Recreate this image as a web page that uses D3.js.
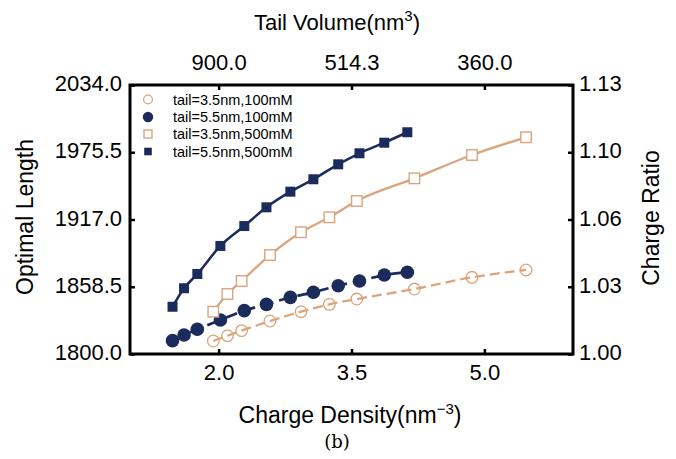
<!DOCTYPE html>
<html>
<head>
<meta charset="utf-8">
<script src="https://cdn.jsdelivr.net/npm/d3@7"></script>
<style>
  body { margin: 0; background: #fff; }
  svg text { font-family: "Liberation Sans", Arial, sans-serif; fill: #000; }
</style>
</head>
<body>
<div id="chart"></div>
<script>
// series names in legend order
var seriesNames = ['tail=3.5nm,100mM', 'tail=5.5nm,100mM', 'tail=3.5nm,500mM', 'tail=5.5nm,500mM'];

// charge density (x) for the 5.5nm and 3.5nm tails
var density55 = [1.48, 1.61, 1.76, 2.02, 2.29, 2.54, 2.81, 3.07, 3.35, 3.59, 3.87, 4.13];
var density35 = [1.94, 2.10, 2.26, 2.58, 2.93, 3.25, 3.56, 4.21, 4.86, 5.47];

// optimal length values
var len35_100 = [1811.3, 1815.9, 1820.3, 1828.7, 1836.8, 1843.2, 1847.8, 1856.5, 1866.7, 1873.1];
var len55_100 = [1811.6, 1816.5, 1821.5, 1829.6, 1837.7, 1843.2, 1849.3, 1853.7, 1859.4, 1863.5, 1868.7, 1871.1];
var len35_500 = [1836.8, 1852.2, 1863.5, 1886.1, 1905.9, 1918.9, 1933.1, 1952.8, 1973.1, 1988.5];
var len55_500 = [1841.1, 1857.2, 1869.6, 1894.0, 1911.3, 1927.6, 1941.2, 1952.0, 1965.0, 1974.6, 1983.8, 1992.9];

// ticks
var xTicks = [2.0, 3.5, 5.0];
var xTopLabels = ['900.0', '514.3', '360.0'];
var yTicks = [1800, 1858.5, 1917, 1975.5, 2034];
var yRightTicks = [1.00, 1.0325, 1.065, 1.0975, 1.13];
var yRightLabels = ['1.00', '1.03', '1.06', '1.10', '1.13'];

var navy = '#1b2b5b';
var tan = '#dca47c';

var width = 676, height = 459;
var margin = { left: 130, right: 103, top: 85, bottom: 105 };

var svg = d3.select('#chart').append('svg')
  .attr('width', width)
  .attr('height', height);

var x = d3.scaleLinear().domain([1, 6]).range([margin.left, width - margin.right]);
var y = d3.scaleLinear().domain([1800, 2034]).range([height - margin.bottom, margin.top]);
var yR = d3.scaleLinear().domain([1.00, 1.13]).range([height - margin.bottom, margin.top]);

var fontSize = 22;

// axes (ticks pointing inward)
var bottomAxis = svg.append('g')
  .attr('transform', 'translate(0,' + (height - margin.bottom) + ')')
  .call(d3.axisBottom(x).tickValues(xTicks).tickSize(-5).tickSizeOuter(0).tickPadding(10)
    .tickFormat(d3.format('.1f')));

var topAxis = svg.append('g')
  .attr('transform', 'translate(0,' + margin.top + ')')
  .call(d3.axisTop(x).tickValues(xTicks).tickSize(-5).tickSizeOuter(0).tickPadding(15)
    .tickFormat(function(d, i) { return xTopLabels[i]; }));

var leftAxis = svg.append('g')
  .attr('transform', 'translate(' + margin.left + ',0)')
  .call(d3.axisLeft(y).tickValues(yTicks).tickSize(-5).tickSizeOuter(0).tickPadding(8)
    .tickFormat(d3.format('.1f')));

var rightAxis = svg.append('g')
  .attr('transform', 'translate(' + (width - margin.right) + ',0)')
  .call(d3.axisRight(yR).tickValues(yRightTicks).tickSize(-5).tickSizeOuter(0).tickPadding(6)
    .tickFormat(function(d, i) { return yRightLabels[i]; }));

[bottomAxis, topAxis, leftAxis, rightAxis].forEach(function(a) {
  a.select('.domain').remove();
  a.selectAll('.tick line').attr('stroke', '#000').attr('stroke-width', 2.5);
  a.selectAll('.tick text')
    .style('font-family', '"Liberation Sans", Arial, sans-serif')
    .style('font-size', fontSize + 'px')
    .attr('fill', '#000');
});
// side labels sit a touch above their ticks in the original
leftAxis.selectAll('.tick text').attr('dy', '0.25em');
rightAxis.selectAll('.tick text').attr('dy', '0.25em');

// frame
svg.append('rect')
  .attr('x', margin.left)
  .attr('y', margin.top)
  .attr('width', width - margin.left - margin.right)
  .attr('height', height - margin.top - margin.bottom)
  .attr('fill', 'none')
  .attr('stroke', '#000')
  .attr('stroke-width', 3);

// lines
function pts(xs, ys) {
  return xs.map(function(d, i) { return [d, ys[i]]; });
}
var line = d3.line()
  .x(function(d) { return x(d[0]); })
  .y(function(d) { return y(d[1]); })
  .curve(d3.curveMonotoneX);

var series = [
  { name: seriesNames[0], data: pts(density35, len35_100), color: tan, dash: '10,5', lw: 2.3, shape: 'circle', filled: false },
  { name: seriesNames[1], data: pts(density55, len55_100), color: navy, dash: '13,6', lw: 2.8, shape: 'circle', filled: true },
  { name: seriesNames[2], data: pts(density35, len35_500), color: tan, dash: null, lw: 2.3, shape: 'square', filled: false },
  { name: seriesNames[3], data: pts(density55, len55_500), color: navy, dash: null, lw: 2.5, shape: 'square', filled: true }
];

var plot = svg.append('g');

series.forEach(function(s) {
  plot.append('path')
    .attr('d', line(s.data))
    .attr('fill', 'none')
    .attr('stroke', s.color)
    .attr('stroke-width', s.lw)
    .attr('stroke-dasharray', s.dash);
});

function drawMarker(g, s, cx, cy, scale) {
  if (s.shape === 'circle') {
    g.append('circle')
      .attr('cx', cx).attr('cy', cy)
      .attr('r', (s.filled ? 6.8 : 5.8) * scale)
      .attr('fill', s.filled ? s.color : 'none')
      .attr('stroke', s.color)
      .attr('stroke-width', s.filled ? 0 : 1.3);
  } else {
    var side = (s.filled ? 10 : 10.5) * scale;
    g.append('rect')
      .attr('x', cx - side / 2).attr('y', cy - side / 2)
      .attr('width', side).attr('height', side)
      .attr('fill', s.filled ? s.color : '#fff')
      .attr('stroke', s.color)
      .attr('stroke-width', s.filled ? 0 : 1.4);
  }
}

series.forEach(function(s) {
  s.data.forEach(function(d) {
    drawMarker(plot, s, x(d[0]), y(d[1]), 1);
  });
});

// legend
var legend = svg.append('g');
var legendRows = [99.5, 117, 134, 151.5];
series.forEach(function(s, i) {
  drawMarker(legend, s, 148, legendRows[i], 0.76);
  legend.append('text')
    .attr('x', 173)
    .attr('y', legendRows[i])
    .attr('dy', '0.36em')
    .style('font-size', '14.5px')
    .text(s.name);
});

// axis titles
var topTitle = svg.append('text')
  .attr('x', 337)
  .attr('y', 30)
  .attr('text-anchor', 'middle')
  .style('font-size', fontSize + 'px');
topTitle.append('tspan').text('Tail Volume(nm');
topTitle.append('tspan').attr('dy', -9).style('font-size', '15px').text('3');
topTitle.append('tspan').attr('dy', 9).text(')');

var bottomTitle = svg.append('text')
  .attr('x', 350)
  .attr('y', 423)
  .attr('text-anchor', 'middle')
  .style('font-size', '23px');
bottomTitle.append('tspan').text('Charge Density(nm');
bottomTitle.append('tspan').attr('dy', -9).style('font-size', '15px').text('\u22123');
bottomTitle.append('tspan').attr('dy', 9).text(')');

svg.append('text')
  .attr('transform', 'translate(33,217) rotate(-90)')
  .attr('text-anchor', 'middle')
  .style('font-size', '23px')
  .text('Optimal Length');

svg.append('text')
  .attr('transform', 'translate(659,218) rotate(-90)')
  .attr('text-anchor', 'middle')
  .style('font-size', '23px')
  .text('Charge Ratio');

svg.append('text')
  .attr('x', 337)
  .attr('y', 448)
  .attr('text-anchor', 'middle')
  .style('font-family', '"DejaVu Serif", "Liberation Serif", serif')
  .style('font-size', '18px')
  .text('(b)');
</script>
</body>
</html>
